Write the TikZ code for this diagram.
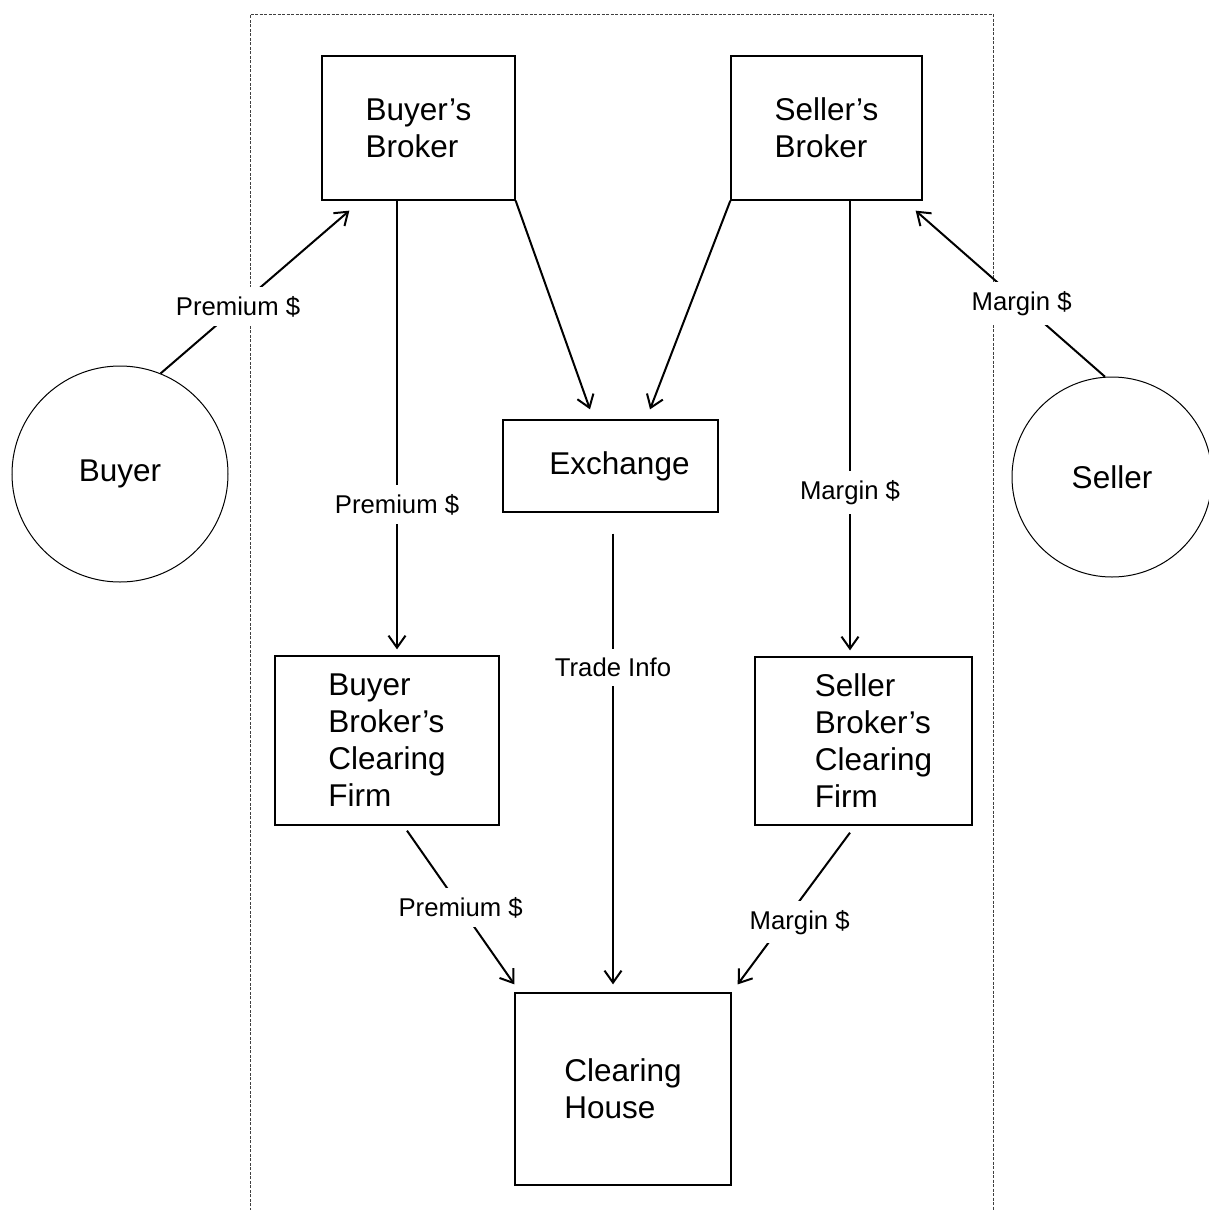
\documentclass[tikz,border=0pt]{standalone}
\usepackage{fontspec}
\setmainfont{Liberation Sans}
\usepackage{tikz}
\usetikzlibrary{arrows.meta,calc}

\newcommand{\boxfont}{\fontsize{31.5}{37}\selectfont}
\newcommand{\lblfont}{\fontsize{25.7}{30}\selectfont}

\begin{document}
\begin{tikzpicture}[
  x={(1pt,0pt)},
  y={(0pt,-1pt)},
  box/.style={draw, line width=1.3pt, align=left, font=\boxfont, inner sep=0pt},
  party/.style={draw, circle, line width=1pt, font=\boxfont, inner sep=0pt},
  flow/.style={-{Straight Barb[length=12pt,width=17pt,line width=2pt]}, line width=2pt},
  lbl/.style={fill=white, font=\lblfont, inner xsep=2pt, inner ysep=9pt},
  frame/.style={line width=1pt, black!75, dash pattern=on 3pt off 1.5pt}
]
\useasboundingbox (0,0) rectangle (1208,1210);
\fill[white] (0,0) rectangle (1208,1210);

% dashed region, open at the bottom
\draw[frame] (250,1215) -- (250,14) -- (993,14) -- (993,1215);

% parties outside
\node[party, minimum size=216pt] (buyer) at (120,474) {Buyer};
\node[party, minimum size=200pt] (seller) at (1112,477) {Seller};

% brokers and exchange
\node[box, minimum width=193pt, minimum height=144pt] (bb) at (418.5,128) {Buyer’s\\Broker};
\node[box, minimum width=191pt, minimum height=144pt] (sb) at (826.5,128) {Seller’s\\Broker};
\node[box, minimum width=215pt, minimum height=92pt] (ex) at (610.5,466) {\hspace*{18pt}Exchange};

% clearing side
\node[box, minimum width=224pt, minimum height=169pt] (bbc) at (387,740.5) {Buyer\\Broker’s\\Clearing\\Firm};
\node[box, minimum width=217pt, minimum height=168pt] (sbc) at (863.5,741) {\hspace*{20pt}Seller\\\hspace*{20pt}Broker’s\\\hspace*{20pt}Clearing\\\hspace*{20pt}Firm};
\node[box, minimum width=216pt, minimum height=192pt] (ch) at (623,1089) {Clearing\\House};

% money and orders
\draw[flow] (buyer.68) -- node[lbl, pos=0.41] {Premium \$} ($(bb.south west)+(28,10)$);
\draw[flow] (seller.94) -- node[lbl, pos=0.44] {Margin \$} ($(sb.south east)+(-7,10)$);
\draw[flow] (bb.south east) -- ($(ex.north)+(-20.5,-10)$);
\draw[flow] (sb.south west) -- ($(ex.north)+(39.5,-10)$);
\draw[flow] ($(bb.south)+(-21.5,0)$) -- node[lbl, pos=0.678] {Premium \$} ($(bbc.north)+(10,-6)$);
\draw[flow] ($(sb.south)+(23.5,0)$) -- node[lbl, pos=0.649] {Margin \$} ($(sbc.north)+(-13.5,-6)$);
\draw[flow] ($(ex.south)+(2.5,21)$) -- node[lbl, pos=0.296] {Trade Info} ($(ch.north)+(-10,-8)$);
\draw[flow] ($(bbc.south)+(20,5)$) -- node[lbl, pos=0.5] {Premium \$} ($(ch.north west)+(0,-8)$);
\draw[flow] ($(sbc.south)+(-13.5,7)$) -- node[lbl, pos=0.59, xshift=16pt] {Margin \$} ($(ch.north east)+(6,-8)$);
\end{tikzpicture}
\end{document}
